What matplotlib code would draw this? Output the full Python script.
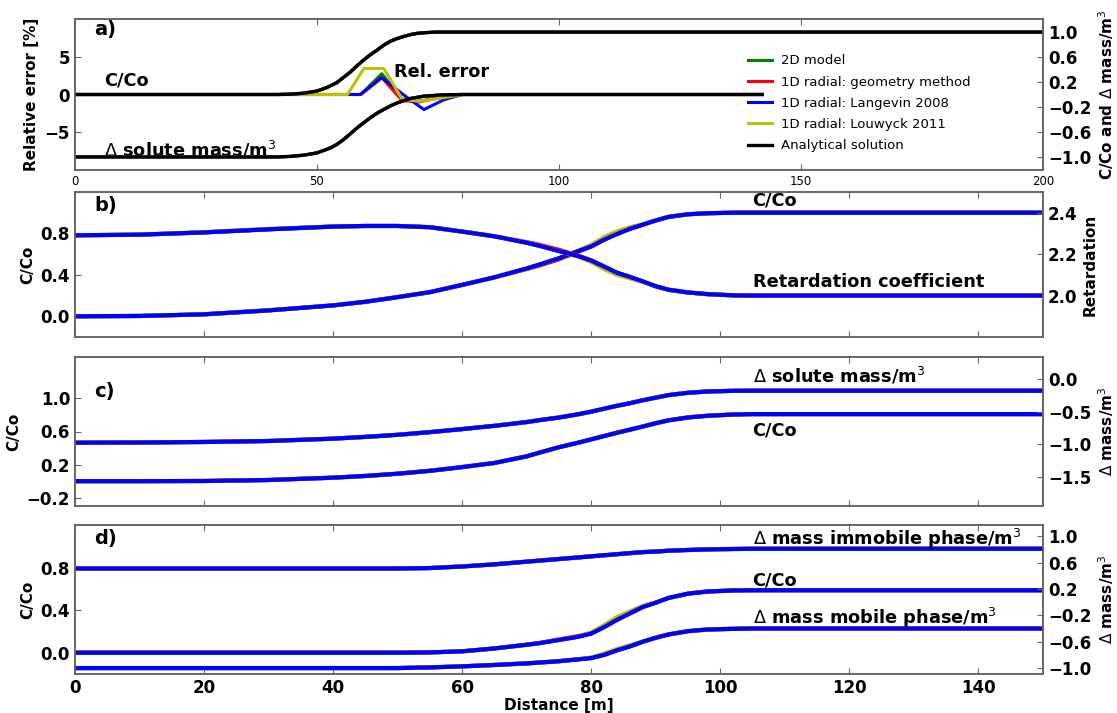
import matplotlib
matplotlib.use('Agg')
import matplotlib.pyplot as plt

# a) profiles along the transect (right axis) and relative error of the models (left axis)
dist_conc_a = [0, 42, 44.5, 47.2, 50, 52, 54.1, 56.9, 58.2, 59.6, 61, 62.4, 63.7, 65.1, 66.5, 67.9,
               69.3, 70.7, 72.5, 74.8, 80, 200]
conc_a = [0, 0, 0.005, 0.02, 0.055, 0.11, 0.19, 0.36, 0.455, 0.55, 0.635, 0.71, 0.785, 0.85, 0.895, 0.93,
          0.96, 0.98, 0.992, 1.0, 1.0, 1.0]
dist_mass_a = [0, 42, 44.5, 47.2, 50, 52.8, 54.2, 55.5, 56.9, 58.3, 59.7, 61, 62.4, 63.8, 65.2, 66.6,
               69.3, 72.1, 76.2, 80, 142]
mass_a = [-1.0, -1.0, -0.992, -0.973, -0.936, -0.856, -0.795, -0.722, -0.63, -0.535, -0.45, -0.374, -0.30,
          -0.24, -0.182, -0.134, -0.064, -0.027, -0.005, 0, 0]

err_dist_green = [0, 59, 63.4, 67.6, 71, 76, 80, 142]
err_green = [0, 0, 2.75, -0.6, -0.9, -0.3, 0, 0]
err_dist_red = [0, 59, 63.4, 67.6, 71, 76, 80, 142]
err_red = [0, 0, 2.23, -0.8, -1.0, -0.3, 0, 0]
err_dist_blue = [0, 59, 63.4, 67.6, 72.1, 76.2, 80, 142]
err_blue = [0, 0, 2.23, 0.1, -2.0, -0.7, 0, 0]
err_dist_yellow = [0, 56.3, 59.7, 63.8, 67.6, 71, 76.4, 80.5, 142]
err_yellow = [0, 0, 3.44, 3.44, -0.6, -0.9, -0.4, 0, 0]

# b) - d) share the same distances
dist = [0, 10, 20, 30, 40, 45, 50, 55, 60, 65, 70, 72, 75, 78, 80, 82, 84, 86, 88, 90, 92, 95, 98, 102, 105, 150]

conc_b = [0, 0.003, 0.019, 0.057, 0.105, 0.14, 0.185, 0.233, 0.303, 0.376, 0.462, 0.50, 0.56, 0.63,
          0.675, 0.74, 0.795, 0.845, 0.885, 0.925, 0.96, 0.985, 0.995, 1.0, 1.0, 1.0]
conc_b_red = [0, 0.003, 0.019, 0.057, 0.105, 0.14, 0.185, 0.233, 0.303, 0.376, 0.456, 0.49, 0.55, 0.625,
              0.673, 0.74, 0.795, 0.845, 0.885, 0.925, 0.96, 0.985, 0.995, 1.0, 1.0, 1.0]
conc_b_yellow = [0, 0.003, 0.019, 0.057, 0.105, 0.14, 0.185, 0.233, 0.303, 0.376, 0.462, 0.50, 0.56, 0.635,
                 0.69, 0.765, 0.82, 0.86, 0.89, 0.925, 0.96, 0.985, 0.995, 1.0, 1.0, 1.0]
retard_b = [2.291, 2.294, 2.305, 2.32, 2.333, 2.336, 2.336, 2.33, 2.309, 2.286, 2.255, 2.24, 2.215, 2.19,
            2.169, 2.14, 2.11, 2.09, 2.068, 2.045, 2.028, 2.015, 2.007, 2.001, 2.0, 2.0]
retard_b_red = [2.291, 2.294, 2.305, 2.32, 2.333, 2.336, 2.336, 2.33, 2.309, 2.286, 2.258, 2.245, 2.221, 2.193,
                2.17, 2.14, 2.11, 2.09, 2.068, 2.045, 2.028, 2.015, 2.007, 2.001, 2.0, 2.0]
retard_b_yellow = [2.291, 2.294, 2.306, 2.322, 2.333, 2.336, 2.336, 2.33, 2.309, 2.286, 2.255, 2.24, 2.215, 2.188,
                   2.162, 2.128, 2.1, 2.083, 2.066, 2.045, 2.028, 2.015, 2.007, 2.001, 2.0, 2.0]

conc_c = [0, 0, 0.002, 0.014, 0.042, 0.063, 0.09, 0.125, 0.17, 0.22, 0.30, 0.345, 0.41, 0.465,
          0.505, 0.545, 0.585, 0.622, 0.66, 0.70, 0.735, 0.77, 0.79, 0.805, 0.81, 0.81]
mass_c = [-0.977, -0.974, -0.966, -0.951, -0.915, -0.888, -0.856, -0.815, -0.768, -0.718, -0.66, -0.63,
          -0.59, -0.54, -0.50, -0.455, -0.41, -0.37, -0.325, -0.285, -0.245, -0.21, -0.19, -0.18, -0.178, -0.178]

conc_d = [0, 0, 0, 0, 0, 0, 0, 0.003, 0.013, 0.04, 0.075, 0.09, 0.12, 0.15,
          0.18, 0.24, 0.31, 0.37, 0.43, 0.47, 0.515, 0.555, 0.575, 0.585, 0.587, 0.587]
conc_d_red = [0, 0, 0, 0, 0, 0, 0, 0.003, 0.013, 0.04, 0.075, 0.092, 0.125, 0.156,
              0.186, 0.245, 0.31, 0.37, 0.43, 0.47, 0.515, 0.555, 0.575, 0.585, 0.587, 0.587]
conc_d_yellow = [0, 0, 0, 0, 0, 0, 0, 0.003, 0.013, 0.04, 0.075, 0.09, 0.12, 0.15,
                 0.19, 0.26, 0.335, 0.39, 0.44, 0.475, 0.515, 0.555, 0.575, 0.585, 0.587, 0.587]
immobile_d = [0.51, 0.51, 0.51, 0.51, 0.51, 0.51, 0.51, 0.517, 0.541, 0.573, 0.614, 0.63, 0.654, 0.678,
              0.695, 0.711, 0.727, 0.743, 0.759, 0.767, 0.78, 0.791, 0.80, 0.806, 0.809, 0.81]
mobile_d = [-1.0, -1.0, -1.0, -1.0, -1.0, -1.0, -1.0, -0.99, -0.974, -0.953, -0.929, -0.916, -0.896, -0.867,
            -0.848, -0.799, -0.73, -0.67, -0.60, -0.54, -0.49, -0.44, -0.415, -0.405, -0.40, -0.40]
mobile_d_yellow = [-1.0, -1.0, -1.0, -1.0, -1.0, -1.0, -1.0, -0.99, -0.974, -0.953, -0.929, -0.916, -0.896, -0.867,
                   -0.84, -0.78, -0.71, -0.655, -0.595, -0.54, -0.49, -0.44, -0.415, -0.405, -0.40, -0.40]

models = ['2D model', '1D radial: geometry method', '1D radial: Langevin 2008', '1D radial: Louwyck 2011']
YEL = (0.75, 0.75, 0)
colors = ['g', 'r', 'b', YEL]

SPINE = '0.4'
TXT = 12.8
bold = dict(fontweight='bold')

fig = plt.figure(figsize=(11.17, 7.13), dpi=100)
L, W = 0.0671, 0.8666


def frame(ax, twin):
    for a in (ax, twin):
        for s in a.spines.values():
            s.set_color(SPINE)
            s.set_linewidth(1.2)
    ax.tick_params(direction='in', top=True, length=4, color=SPINE)
    twin.tick_params(direction='in', length=4, color=SPINE)
    for lab in ax.get_yticklabels() + twin.get_yticklabels():
        lab.set_fontweight('bold')
        lab.set_fontsize(12)


# ---- a)
ax = fig.add_axes([L, 1 - 170 / 713, W, 151 / 713])
ax2 = ax.twinx()
for xs, ys, c in [(err_dist_green, err_green, 'g'), (err_dist_red, err_red, 'r'),
                  (err_dist_blue, err_blue, 'b'), (err_dist_yellow, err_yellow, YEL)]:
    ax.plot(xs, ys, color=c, lw=2.2)
for name, c in zip(models, colors):
    ax2.plot(dist_conc_a, conc_a, color=c, lw=2.2, label=name)
    ax2.plot(dist_mass_a, mass_a, color=c, lw=2.2)
ax2.plot(dist_conc_a, conc_a, color='k', lw=2.4, label='Analytical solution')
ax2.plot(dist_mass_a, mass_a, color='k', lw=2.4)
ax.set_xlim(0, 200)
ax.set_ylim(-10, 10)
ax2.set_ylim(-1.21, 1.21)
ax.set_xticks([0, 50, 100, 150, 200])
ax.set_yticks([-5, 0, 5])
ax2.set_yticks([-1.0, -0.6, -0.2, 0.2, 0.6, 1.0])
frame(ax, ax2)
ax.tick_params(axis='x', labelsize=8.5)
ax.set_ylabel('Relative error [%]', fontsize=11, **bold)
ax2.set_ylabel(r'C/Co and $\Delta$ mass/m$^3$', fontsize=11, **bold)
ax.text(0.02, 0.93, 'a)', transform=ax.transAxes, fontsize=14, va='center', **bold)
ax.text(6, 0.7, 'C/Co', fontsize=TXT, va='bottom', **bold)
ax.text(66, 3.0, 'Rel. error', fontsize=TXT, va='center', **bold)
ax.text(6, -7.3, r'$\Delta$ solute mass/m$^3$', fontsize=TXT, va='center', **bold)
ax2.legend(loc='upper left', bbox_to_anchor=(0.69, 0.80), frameon=False, fontsize=9.5,
           handlelength=1.8, handletextpad=0.7, labelspacing=0.62, borderaxespad=0)

xt = [0, 20, 40, 60, 80, 100, 120, 140]
draw_order = ['g', 'r', YEL, 'b']

# ---- b)
ax = fig.add_axes([L, 1 - 337 / 713, W, 145 / 713])
ax2 = ax.twinx()
for c, cc, rr in [('g', conc_b, retard_b), ('r', conc_b_red, retard_b_red),
                  (YEL, conc_b_yellow, retard_b_yellow), ('b', conc_b, retard_b)]:
    ax.plot(dist, cc, color=c, lw=3)
    ax2.plot(dist, rr, color=c, lw=3)
ax.set_xlim(0, 150)
ax.set_ylim(-0.2, 1.2)
ax2.set_ylim(1.8, 2.5)
ax.set_xticks(xt)
ax.set_xticklabels([])
ax.set_yticks([0.0, 0.4, 0.8])
ax2.set_yticks([2.0, 2.2, 2.4])
frame(ax, ax2)
ax.set_ylabel('C/Co', fontsize=11, **bold)
ax2.set_ylabel('Retardation', fontsize=11, **bold)
ax.text(0.02, 0.91, 'b)', transform=ax.transAxes, fontsize=14, va='center', **bold)
ax.text(105, 1.03, 'C/Co', fontsize=TXT, va='bottom', **bold)
ax.text(105, 0.33, 'Retardation coefficient', fontsize=TXT, va='center', **bold)

# ---- c)
ax = fig.add_axes([L, 1 - 506 / 713, W, 149 / 713])
ax2 = ax.twinx()
for c in draw_order:
    ax.plot(dist, conc_c, color=c, lw=3)
    ax2.plot(dist, mass_c, color=c, lw=3)
ax.set_xlim(0, 150)
ax.set_ylim(-0.3, 1.5)
ax2.set_ylim(-1.95, 0.34)
ax.set_xticks(xt)
ax.set_xticklabels([])
ax.set_yticks([-0.2, 0.2, 0.6, 1.0])
ax2.set_yticks([-1.5, -1.0, -0.5, 0.0])
frame(ax, ax2)
ax.set_ylabel('C/Co', fontsize=11, **bold)
ax2.set_ylabel(r'$\Delta$ mass/m$^3$', fontsize=11, **bold)
ax.text(0.02, 1.08, 'c)', fontsize=14, va='center', transform=ax.get_yaxis_transform(), **bold)
ax2.text(105, -0.11, r'$\Delta$ solute mass/m$^3$', fontsize=TXT, va='bottom', **bold)
ax2.text(105, -0.65, 'C/Co', fontsize=TXT, va='top', **bold)

# ---- d)
ax = fig.add_axes([L, 1 - 674 / 713, W, 149 / 713])
ax2 = ax.twinx()
for c, cc, mob in [('g', conc_d, mobile_d), ('r', conc_d_red, mobile_d),
                   (YEL, conc_d_yellow, mobile_d_yellow), ('b', conc_d, mobile_d)]:
    ax.plot(dist, cc, color=c, lw=3)
    ax2.plot(dist, immobile_d, color=c, lw=3)
    ax2.plot(dist, mob, color=c, lw=3)
ax.set_xlim(0, 150)
ax.set_ylim(-0.2, 1.2)
ax2.set_ylim(-1.09, 1.17)
ax.set_xticks(xt)
ax.set_yticks([0.0, 0.4, 0.8])
ax2.set_yticks([-1.0, -0.6, -0.2, 0.2, 0.6, 1.0])
frame(ax, ax2)
for lab in ax.get_xticklabels():
    lab.set_fontweight('bold')
    lab.set_fontsize(12)
ax.set_xlabel('Distance [m]', fontsize=11, labelpad=1, **bold)
ax.set_ylabel('C/Co', fontsize=11, **bold)
ax2.set_ylabel(r'$\Delta$ mass/m$^3$', fontsize=11, **bold)
ax.text(0.02, 0.91, 'd)', transform=ax.transAxes, fontsize=14, va='center', **bold)
ax2.text(105, 0.78, r'$\Delta$ mass immobile phase/m$^3$', fontsize=TXT, va='bottom', **bold)
ax2.text(105, 0.19, 'C/Co', fontsize=TXT, va='bottom', **bold)
ax2.text(105, -0.42, r'$\Delta$ mass mobile phase/m$^3$', fontsize=TXT, va='bottom', **bold)

fig.savefig('out.png', dpi=100)
